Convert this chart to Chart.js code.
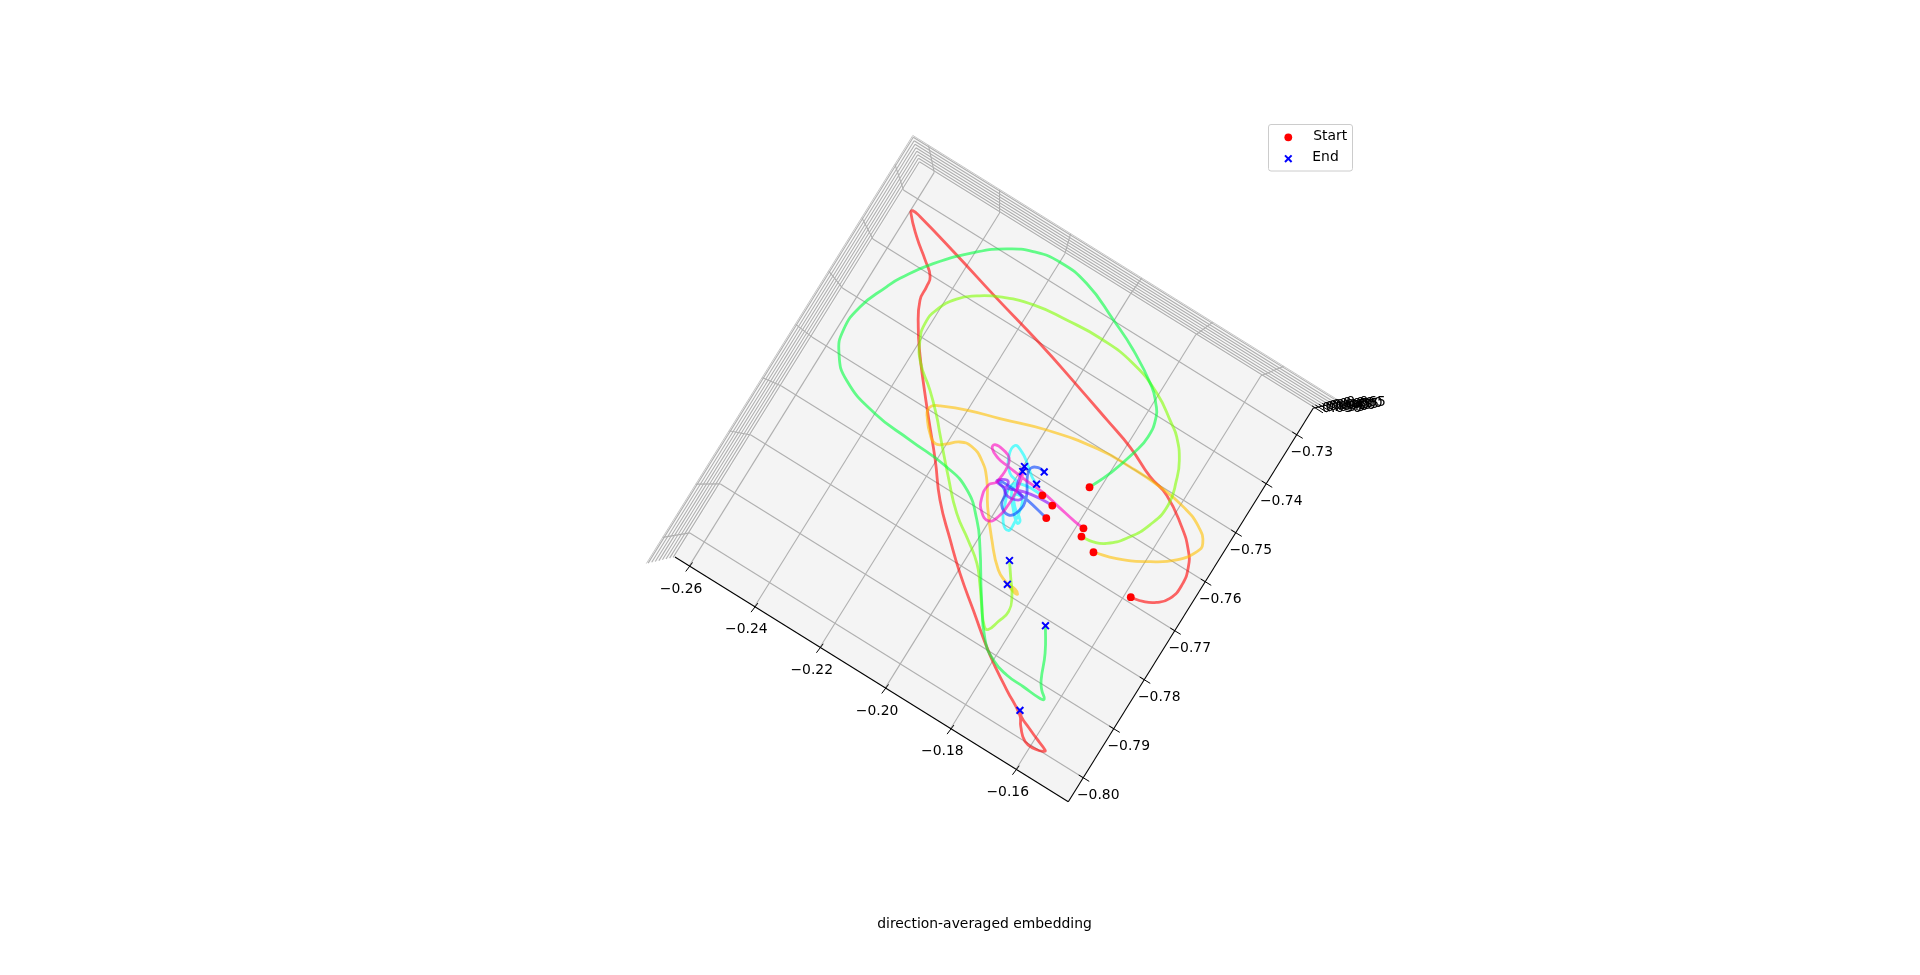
<!DOCTYPE html>
<html><head><meta charset="utf-8">
<style>html,body{margin:0;padding:0;background:#fff;overflow:hidden}canvas{display:block}</style>
<script src="https://cdn.jsdelivr.net/npm/chart.js@4"></script>
</head><body><canvas id="c" width="1920" height="975"></canvas>
<script>
const xTicks=[-0.26,-0.24,-0.22,-0.20,-0.18,-0.16];
const yTicks=[-0.80,-0.79,-0.78,-0.77,-0.76,-0.75,-0.74,-0.73];
const zTicks=[0.030,0.035,0.040,0.045,0.050,0.055,0.060,0.065];
const xLimits=[-0.2644,-0.144];
const yLimits=[-0.8049,-0.7246];
const zLimits=[0.0275,0.0675];
const titleText="direction-averaged embedding";
const legendNames=["Start","End"];

const redX=[-0.1583,-0.1550,-0.1519,-0.1495,-0.1487,-0.1498,-0.1521,-0.1567,-0.1644,-0.1706,-0.1790,-0.1879,-0.2000,-0.2132,-0.2295,-0.2437,-0.2571,-0.2595,-0.2596,-0.2550,-0.2500,-0.2466,-0.2460,-0.2456,-0.2423,-0.2378,-0.2328,-0.2272,-0.2203,-0.2137,-0.2060,-0.1993,-0.1913,-0.1814,-0.1729,-0.1666,-0.1648,-0.1618,-0.1586,-0.1561,-0.1570,-0.1597,-0.1630,-0.1660,-0.1672];
const redY=[-0.7691,-0.7686,-0.7675,-0.7657,-0.7626,-0.7593,-0.7569,-0.7541,-0.7508,-0.7496,-0.7471,-0.7452,-0.7427,-0.7401,-0.7373,-0.7347,-0.7324,-0.7322,-0.7327,-0.7357,-0.7383,-0.7403,-0.7421,-0.7447,-0.7488,-0.7530,-0.7571,-0.7615,-0.7668,-0.7723,-0.7772,-0.7812,-0.7854,-0.7905,-0.7941,-0.7966,-0.7982,-0.8000,-0.8002,-0.7996,-0.7992,-0.7985,-0.7976,-0.7967,-0.7959];
const orangeX=[-0.1727,-0.1667,-0.1589,-0.1533,-0.1500,-0.1498,-0.1531,-0.1591,-0.1670,-0.1764,-0.1859,-0.1998,-0.2117,-0.2202,-0.2266,-0.2285,-0.2288,-0.2280,-0.2251,-0.2226,-0.2203,-0.2173,-0.2141,-0.2100,-0.2062,-0.2023,-0.1968,-0.1913,-0.1876,-0.1844,-0.1837,-0.1849,-0.1873];
const orangeY=[-0.7659,-0.7647,-0.7621,-0.7594,-0.7564,-0.7546,-0.7525,-0.7510,-0.7502,-0.7500,-0.7503,-0.7522,-0.7548,-0.7566,-0.7584,-0.7592,-0.7602,-0.7612,-0.7634,-0.7644,-0.7636,-0.7619,-0.7615,-0.7626,-0.7650,-0.7689,-0.7734,-0.7772,-0.7784,-0.7791,-0.7790,-0.7785,-0.7785];
const limeX=[-0.1775,-0.1742,-0.1710,-0.1673,-0.1640,-0.1627,-0.1643,-0.1664,-0.1702,-0.1732,-0.1806,-0.1899,-0.2006,-0.2105,-0.2199,-0.2284,-0.2337,-0.2377,-0.2406,-0.2413,-0.2401,-0.2368,-0.2311,-0.2259,-0.2229,-0.2151,-0.2082,-0.2020,-0.1969,-0.1935,-0.1899,-0.1866,-0.1853,-0.1842,-0.1833,-0.1846,-0.1876,-0.1901];
const limeY=[-0.7647,-0.7644,-0.7634,-0.7608,-0.7567,-0.7521,-0.7477,-0.7445,-0.7413,-0.7398,-0.7367,-0.7345,-0.7338,-0.7342,-0.7350,-0.7369,-0.7389,-0.7412,-0.7446,-0.7476,-0.7506,-0.7539,-0.7570,-0.7603,-0.7625,-0.7681,-0.7727,-0.7756,-0.7782,-0.7809,-0.7841,-0.7868,-0.7869,-0.7848,-0.7824,-0.7799,-0.7771,-0.7748];
const greenX=[-0.1825,-0.1799,-0.1775,-0.1765,-0.1775,-0.1794,-0.1826,-0.1917,-0.2002,-0.2111,-0.2200,-0.2273,-0.2335,-0.2397,-0.2477,-0.2530,-0.2548,-0.2579,-0.2584,-0.2562,-0.2508,-0.2400,-0.2286,-0.2168,-0.2092,-0.2029,-0.1985,-0.1913,-0.1846,-0.1800,-0.1750,-0.1697,-0.1644,-0.1634,-0.1652,-0.1667,-0.1695,-0.1732];
const greenY=[-0.7567,-0.7528,-0.7477,-0.7439,-0.7402,-0.7383,-0.7362,-0.7325,-0.7299,-0.7270,-0.7263,-0.7272,-0.7292,-0.7324,-0.7381,-0.7433,-0.7458,-0.7512,-0.7561,-0.7599,-0.7632,-0.7655,-0.7662,-0.7668,-0.7683,-0.7718,-0.7755,-0.7827,-0.7887,-0.7909,-0.7919,-0.7921,-0.7923,-0.7920,-0.7909,-0.7895,-0.7852,-0.7811];
const cyanX=[-0.1918,-0.1974,-0.2000,-0.1989,-0.1968,-0.1945,-0.1942,-0.1947,-0.1959,-0.1979,-0.1963,-0.1933,-0.1935,-0.1962,-0.1993,-0.1990,-0.2020,-0.2045,-0.2047,-0.2023,-0.1995,-0.1967,-0.1946];
const cyanY=[-0.7622,-0.7624,-0.7635,-0.7668,-0.7697,-0.7705,-0.7689,-0.7664,-0.7645,-0.7647,-0.7664,-0.7679,-0.7686,-0.7670,-0.7642,-0.7627,-0.7619,-0.7596,-0.7574,-0.7577,-0.7589,-0.7604,-0.7611];
const blueX=[-0.1878,-0.1952,-0.2001,-0.2035,-0.2005,-0.1994,-0.1966,-0.1949,-0.1950,-0.1977,-0.1981,-0.1965,-0.1946];
const blueY=[-0.7652,-0.7642,-0.7639,-0.7641,-0.7651,-0.7674,-0.7682,-0.7668,-0.7641,-0.7608,-0.7593,-0.7585,-0.7586];
const violetX=[-0.1882,-0.1919,-0.1965,-0.2006,-0.2037,-0.2030,-0.2012,-0.2005,-0.1982,-0.1959,-0.1983,-0.1993,-0.1997];
const violetY=[-0.7628,-0.7629,-0.7634,-0.7644,-0.7644,-0.7636,-0.7633,-0.7651,-0.7655,-0.7645,-0.7635,-0.7615,-0.7596];
const magentaX=[-0.1782,-0.1810,-0.1867,-0.1924,-0.1977,-0.2032,-0.2066,-0.2093,-0.2092,-0.2066,-0.2042,-0.2034,-0.2035,-0.2037,-0.2051,-0.2048,-0.2029,-0.2002,-0.1986,-0.1980,-0.1981,-0.1987,-0.1994];
const magentaY=[-0.7633,-0.7631,-0.7624,-0.7617,-0.7615,-0.7611,-0.7608,-0.7599,-0.7591,-0.7591,-0.7598,-0.7615,-0.7636,-0.7645,-0.7656,-0.7682,-0.7702,-0.7709,-0.7694,-0.7667,-0.7644,-0.7616,-0.7605];

const seriesX=[redX,orangeX,limeX,greenX,cyanX,blueX,violetX,magentaX];
const seriesY=[redY,orangeY,limeY,greenY,cyanY,blueY,violetY,magentaY];
const seriesColors=["rgba(255,0,0,.6)","rgba(255,191,0,.6)","rgba(128,255,0,.6)","rgba(0,255,64,.6)","rgba(0,255,255,.6)","rgba(0,64,255,.6)","rgba(128,0,255,.6)","rgba(255,0,191,.6)"];

// oblique projection of the 3-D view onto the page plane
const ORIGIN=[1068.3,801.7],XDIR=[3267,2033],YDIR=[3050,-4900],VP=[1000,482],PERSP=0.088;
function view(x,y,z){
  const bx=ORIGIN[0]+(x-xLimits[1])*XDIR[0]+(y-yLimits[0])*YDIR[0];
  const by=ORIGIN[1]+(x-xLimits[1])*XDIR[1]+(y-yLimits[0])*YDIR[1];
  const f=1+PERSP*(((z===undefined?zLimits[0]:z)-zLimits[0])/(zLimits[1]-zLimits[0]));
  return {x:VP[0]+(bx-VP[0])*f,y:VP[1]+(by-VP[1])*f};
}
const lineSets=seriesX.map((X,i)=>({
  label:"trajectory "+(i+1),type:"scatter",showLine:true,
  data:X.map((v,j)=>view(v,seriesY[i][j])),
  borderColor:seriesColors[i],backgroundColor:seriesColors[i],borderWidth:2.8,
  pointRadius:0,tension:0.5,fill:false,clip:false,order:10-i,
  borderCapStyle:"round",borderJoinStyle:"round"
}));
const startSet={label:legendNames[0],data:seriesX.map((X,i)=>view(X[0],seriesY[i][0])),
  pointStyle:"circle",pointRadius:3.9,backgroundColor:"#ff0000",borderColor:"#ff0000",borderWidth:0,showLine:false,clip:false,order:0};
const endSet={label:legendNames[1],data:seriesX.map((X,i)=>view(X[X.length-1],seriesY[i][X.length-1])),
  pointStyle:"crossRot",pointRadius:4.8,borderColor:"#0000ff",backgroundColor:"#0000ff",borderWidth:2,showLine:false,clip:false,order:0};

const FONT="13.9px 'DejaVu Sans'";
const paneDecor={
  id:"paneDecor",
  beforeDatasetsDraw(chart){
    const c=chart.ctx,sx=chart.scales.x,sy=chart.scales.y;
    const P=(x,y,z)=>{const v=view(x,y,z);return [sx.getPixelForValue(v.x),sy.getPixelForValue(v.y)];};
    const [x0,x1]=xLimits,[y0,y1]=yLimits,[z0,z1]=zLimits;
    const poly=(pts,fill)=>{c.beginPath();pts.forEach((p,i)=>i?c.lineTo(p[0],p[1]):c.moveTo(p[0],p[1]));c.closePath();c.fillStyle=fill;c.fill();};
    const seg=(a,b,col,w)=>{c.beginPath();c.moveTo(a[0],a[1]);c.lineTo(b[0],b[1]);c.strokeStyle=col;c.lineWidth=w;c.stroke();};
    c.save();
    poly([P(x0,y0,z0),P(x0,y1,z0),P(x0,y1,z1),P(x0,y0,z1)],"#f9f9f9");
    poly([P(x0,y1,z0),P(x1,y1,z0),P(x1,y1,z1),P(x0,y1,z1)],"#f7f7f7");
    poly([P(x0,y0,z0),P(x1,y0,z0),P(x1,y1,z0),P(x0,y1,z0)],"#f4f4f4");
    const GRID="#b0b0b0";
    xTicks.forEach(t=>{seg(P(t,y0,z0),P(t,y1,z0),GRID,1.1);seg(P(t,y1,z0),P(t,y1,z1),GRID,1.1);});
    yTicks.forEach(t=>{seg(P(x0,t,z0),P(x1,t,z0),GRID,1.1);seg(P(x0,t,z0),P(x0,t,z1),GRID,1.1);});
    zTicks.forEach(t=>{seg(P(x0,y0,t),P(x0,y1,t),GRID,1.1);seg(P(x0,y1,t),P(x1,y1,t),GRID,1.1);});
    seg(P(x0,y0,z1),P(x0,y1,z1),"#c8c8c8",1);seg(P(x0,y1,z1),P(x1,y1,z1),"#c8c8c8",1);
    // axis lines
    seg(P(x0,y0,z0),P(x1,y0,z0),"#000",1.1);
    seg(P(x1,y0,z0),P(x1,y1,z0),"#000",1.1);
    seg(P(x1,y1,z0),P(x1,y1,z1),"#000",1.1);
    c.font=FONT;c.fillStyle="#000";c.textAlign="center";c.textBaseline="middle";
    const lab=v=>"\u2212"+Math.abs(v).toFixed(2);
    xTicks.forEach(t=>{const p=P(t,y0,z0);seg([p[0]+3.2,p[1]-3.4],[p[0]-3.6,p[1]+5.6],"#000",1);c.fillText(lab(t),p[0]-8.3,p[1]+23.3);});
    yTicks.forEach(t=>{const p=P(x1,t,z0);seg([p[0]-4.5,p[1]-2.7],[p[0]+6,p[1]+3.7],"#000",1);c.fillText(lab(t),p[0]+15,p[1]+17.5);});
    zTicks.forEach(t=>{const p=P(x1,y1,t);seg([p[0]-3,p[1]-2],[p[0]+8,p[1]+5],"#000",1);c.fillText(t.toFixed(3),p[0]+27,p[1]+0.5);});
    c.restore();
  },
  afterDraw(chart){
    const c=chart.ctx;
    c.save();
    c.font=FONT;c.fillStyle="#000";c.textAlign="center";c.textBaseline="middle";
    c.fillText(titleText,984.5,924.5);
    c.beginPath();c.roundRect(1268.5,124.5,84,46.5,2.5);c.fillStyle="rgba(255,255,255,.8)";c.fill();c.strokeStyle="#cccccc";c.lineWidth=1;c.stroke();
    c.fillStyle="#000";c.textAlign="left";
    c.fillText(legendNames[0],1313.3,136.5);
    c.fillText(legendNames[1],1312.3,157.2);
    c.fillStyle="#ff0000";c.beginPath();c.arc(1288.3,137.3,3.9,0,Math.PI*2);c.fill();
    c.strokeStyle="#0000ff";c.lineWidth=2;c.beginPath();c.moveTo(1285,155.4);c.lineTo(1291.6,162);c.moveTo(1291.6,155.4);c.lineTo(1285,162);c.stroke();
    c.restore();
  }
};
new Chart(document.getElementById("c"),{
  type:"scatter",
  data:{datasets:[startSet,endSet,...lineSets]},
  options:{
    responsive:false,animation:false,devicePixelRatio:1,
    layout:{padding:0,autoPadding:false},
    plugins:{legend:{display:false},title:{display:false},tooltip:{enabled:false}},
    scales:{
      x:{type:"linear",min:0,max:1920,display:false},
      y:{type:"linear",min:0,max:975,reverse:true,display:false}
    }
  },
  plugins:[paneDecor]
});
</script></body></html>
